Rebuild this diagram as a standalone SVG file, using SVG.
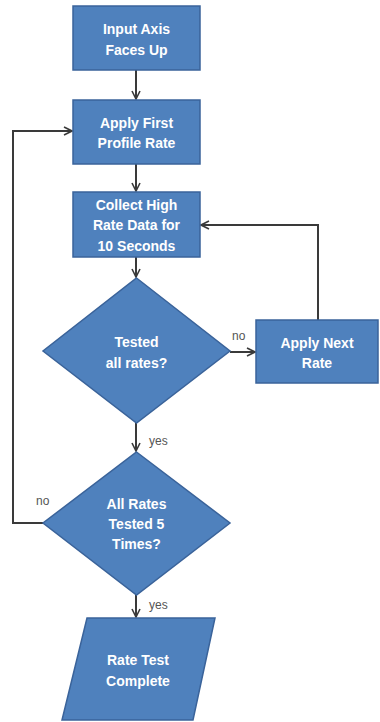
<svg xmlns="http://www.w3.org/2000/svg" width="380" height="722" viewBox="0 0 380 722">
<defs>
<marker id="arr" viewBox="0 0 10 10" refX="9" refY="5" markerWidth="10" markerHeight="10" markerUnits="userSpaceOnUse" orient="auto">
<path d="M1,1 L9,5 L1,9" fill="none" stroke="#3a3a3a" stroke-width="1.6"/>
</marker>
</defs>
<style>
.n{fill:#4F81BD;stroke:#3A639A;stroke-width:1.5}
.t{fill:#fff;font-family:"Liberation Sans",Arial,sans-serif;font-weight:bold;font-size:14px;text-anchor:middle}
.c{fill:none;stroke:#3a3a3a;stroke-width:2;marker-end:url(#arr)}
.l{fill:#555;font-family:"Liberation Sans",Arial,sans-serif;font-size:12px}
</style>
<rect width="380" height="722" fill="#fff"/>
<g id="connectors">
<path class="c" d="M136,70 V99"/>
<path class="c" d="M136,164 V191"/>
<path class="c" d="M136,257 V277"/>
<path class="c" d="M230,352 H255"/>
<path class="c" d="M318,320 V225 H201"/>
<path class="c" d="M136,423 V451"/>
<path class="c" d="M43,523 H13 V131 H72"/>
<path class="c" d="M136,595 V617"/>
<text class="l" x="232" y="340">no</text>
<text class="l" x="149" y="445">yes</text>
<text class="l" x="36" y="505">no</text>
<text class="l" x="149" y="609">yes</text>
</g>
<g id="input-axis">
<rect class="n" x="73" y="6" width="127" height="64"/>
<text class="t" x="136.5" y="34">Input Axis</text>
<text class="t" x="136.5" y="55">Faces Up</text>
</g>
<g id="apply-first">
<rect class="n" x="73" y="100" width="127" height="64"/>
<text class="t" x="136.5" y="128">Apply First</text>
<text class="t" x="136.5" y="148">Profile Rate</text>
</g>
<g id="collect">
<rect class="n" x="73" y="192" width="127" height="65"/>
<text class="t" x="136.5" y="210">Collect High</text>
<text class="t" x="136.5" y="230">Rate Data for</text>
<text class="t" x="136.5" y="251">10 Seconds</text>
</g>
<g id="tested-all">
<polygon class="n" points="136.5,278 230,351 136.5,423 43,351"/>
<text class="t" x="136.5" y="347">Tested</text>
<text class="t" x="136.5" y="368">all rates?</text>
</g>
<g id="apply-next">
<rect class="n" x="256" y="320" width="122" height="63"/>
<text class="t" x="317" y="348">Apply Next</text>
<text class="t" x="317" y="368">Rate</text>
</g>
<g id="tested-5">
<polygon class="n" points="136.5,452 230,523 136.5,595 43,523"/>
<text class="t" x="136.5" y="509">All Rates</text>
<text class="t" x="136.5" y="529">Tested 5</text>
<text class="t" x="136.5" y="549">Times?</text>
</g>
<g id="complete">
<polygon class="n" points="87,618 215,618 193,720 62,720"/>
<text class="t" x="138" y="665">Rate Test</text>
<text class="t" x="138" y="686">Complete</text>
</g>
</svg>
